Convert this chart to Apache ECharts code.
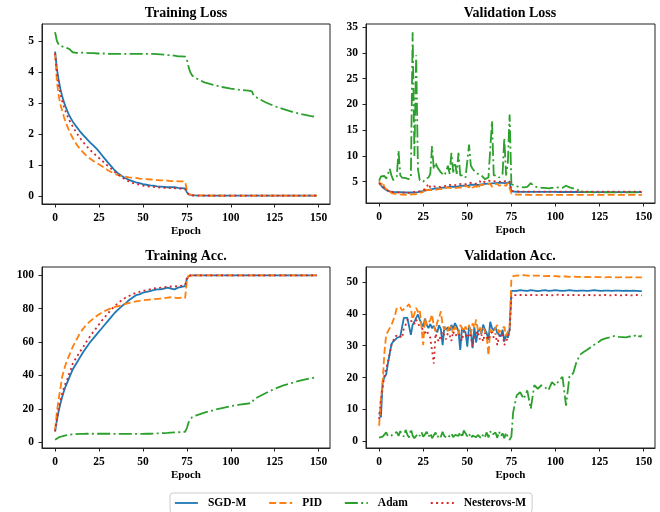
<!DOCTYPE html>
<html>
<head>
<meta charset="utf-8">
<script src="https://cdn.jsdelivr.net/npm/echarts@6/dist/echarts.min.js"></script>
<style>
html,body{margin:0;padding:0;background:#fff;}
#chart{width:660px;height:512px;}
</style>
</head>
<body>
<div id="chart"></div>
<script>
// ---------- data ----------
const seriesNames = ['SGD-M', 'PID', 'Adam', 'Nesterovs-M'];
const panelTitles = ['Training Loss', 'Validation Loss', 'Training Acc.', 'Validation Acc.'];
const xTicks = [0, 25, 50, 75, 100, 125, 150];
const yTicksTrainLoss = [0, 1, 2, 3, 4, 5];
const yTicksValLoss = [5, 10, 15, 20, 25, 30, 35];
const yTicksTrainAcc = [0, 20, 40, 60, 80, 100];
const yTicksValAcc = [0, 10, 20, 30, 40, 50];

// epochs sampled for training curves
const epochsTrain = [0,1,2,3,4,5,6,7,8,9,10,
  12,14,16,18,20,22,24,26,28,30,32,34,36,38,40,42,44,46,48,50,52,54,56,58,60,62,64,66,68,70,72,74,
  75,76,77,78,
  80,85,90,95,100,105,110,112,113,115,120,125,130,135,140,145,149];

// epochs sampled for validation curves
const epochsVal = [0,1,2,3,4,5,6,7,8,9,
  10,11,12,13,14,15,16,17,18,19,
  20,21,22,23,24,25,26,27,28,29,
  30,31,32,33,34,35,36,37,38,39,
  40,41,42,43,44,45,46,47,48,49,
  50,51,52,53,54,55,56,57,58,59,
  60,61,62,63,64,65,66,67,68,69,
  70,71,72,73,74,75,
  76,78,80,82,84,86,88,90,92,94,
  96,98,100,102,104,106,108,110,112,114,
  116,118,120,122,124,126,128,130,132,134,
  136,138,140,142,144,146,148,149];

// Training loss
const trainLossSGD = [4.65,4.1,3.75,3.45,3.22,3.03,2.87,2.73,2.6,2.5,2.4,
  2.24,2.09,1.96,1.84,1.72,1.61,1.5,1.36,1.22,1.08,0.95,0.82,0.72,0.64,0.57,0.52,0.48,0.44,0.41,0.38,0.36,0.34,0.33,0.31,0.3,0.29,0.28,0.28,0.28,0.26,0.25,0.24,
  0.12,0.05,0.03,0.02,
  0.015,0.012,0.01,0.01,0.01,0.01,0.01,0.01,0.01,0.01,0.01,0.01,0.01,0.01,0.01,0.01,0.01];
const trainLossPID = [4.6,3.7,3.25,2.95,2.75,2.55,2.38,2.23,2.1,1.98,1.87,
  1.68,1.52,1.4,1.29,1.2,1.12,1.05,0.98,0.91,0.83,0.77,0.71,0.67,0.64,0.62,0.6,0.59,0.58,0.56,0.55,0.54,0.53,0.52,0.51,0.5,0.5,0.49,0.48,0.48,0.47,0.47,0.46,
  0.2,0.06,0.04,0.03,
  0.02,0.015,0.012,0.01,0.01,0.01,0.01,0.01,0.01,0.01,0.01,0.01,0.01,0.01,0.01,0.01,0.01];
const trainLossAdam = [5.28,5.0,4.88,4.84,4.82,4.8,4.78,4.77,4.74,4.68,4.63,
  4.61,4.61,4.62,4.61,4.6,4.6,4.59,4.59,4.59,4.58,4.58,4.58,4.58,4.58,4.58,4.58,4.58,4.58,4.58,4.58,4.58,4.58,4.58,4.57,4.56,4.55,4.54,4.53,4.52,4.5,4.5,4.49,
  4.4,4.15,3.98,3.88,
  3.8,3.66,3.58,3.51,3.46,3.42,3.39,3.37,3.24,3.16,3.01,2.89,2.8,2.71,2.64,2.58,2.54];
const trainLossNes = [4.6,4.0,3.6,3.3,3.07,2.88,2.72,2.58,2.45,2.34,2.24,
  2.05,1.88,1.73,1.6,1.48,1.37,1.27,1.17,1.07,0.97,0.87,0.77,0.68,0.6,0.53,0.47,0.42,0.39,0.36,0.33,0.31,0.3,0.29,0.28,0.27,0.26,0.26,0.25,0.25,0.24,0.23,0.22,
  0.1,0.04,0.02,0.015,
  0.01,0.01,0.01,0.01,0.01,0.01,0.01,0.01,0.01,0.01,0.01,0.01,0.01,0.01,0.01,0.01,0.01];

// Training accuracy
const trainAccSGD = [6.5,13,18.5,23,27,30.5,33.5,36,38.5,41,43.5,
  47,50.5,54,57,60,62.5,65,67.5,70,72.5,75,77.5,79.5,81.5,83,85,86.5,88,88.5,89.5,90,90.5,91,91.5,91.5,92,92.5,92,91.5,92.5,93,93.5,
  97.5,99.5,99.7,99.8,
  99.9,99.9,99.9,99.9,99.9,99.9,99.9,99.9,99.9,99.9,99.9,99.9,99.9,99.9,99.9,99.9,99.9];
const trainAccPID = [7.5,18,26,32,39,43,46.5,49.5,52,54.5,57,
  61,65,68,70.5,72.5,74.2,75.8,77.2,78.4,79.4,80.2,81,81.5,82,82.8,83.3,83.8,84.3,84.6,85,85.2,85.4,85.6,85.8,86,86.2,86.5,86.8,86.5,86.3,86.6,86.2,
  97,99.6,99.8,99.9,
  99.9,99.9,99.9,99.9,99.9,99.9,99.9,99.9,99.9,99.9,99.9,99.9,99.9,99.9,99.9,99.9,99.9];
const trainAccAdam = [1.5,2.3,2.9,3.3,3.6,3.9,4.1,4.3,4.5,4.6,4.7,
  4.9,5.0,5.0,5.1,5.1,5.1,5.1,5.1,5.1,5.1,5.1,5.0,5.0,5.0,5.0,5.0,5.0,5.0,5.0,5.0,5.1,5.1,5.2,5.3,5.4,5.5,5.6,5.8,5.9,6.0,6.2,6.3,
  8.5,12,13.8,15,
  16,17.7,19.2,20.5,21.6,22.5,23.2,23.6,25.5,26.8,29.5,32,34,35.6,37,38.2,39];
const trainAccNes = [6.5,14,20,25,29,32.5,35.5,38,41,43.5,47,
  50.5,54,57,60.5,63.5,66.5,69,72,74.5,77,79.5,81.5,83.5,85,86.5,87.5,88.5,89.5,90,90.7,91,91.5,92,92.3,92.5,92.8,93,93.2,93.3,93.5,93.7,94,
  98.5,99.7,99.85,99.9,
  99.9,99.9,99.9,99.9,99.9,99.9,99.9,99.9,99.9,99.9,99.9,99.9,99.9,99.9,99.9,99.9,99.9];

// Validation loss
const valLossSGD = [4.8,4.3,3.9,3.6,3.35,3.2,3.1,3.05,3.0,2.95,
  2.95,2.9,2.95,2.9,2.9,2.95,2.9,2.85,2.9,2.95,
  2.9,3.0,2.95,3.05,3.1,3.2,3.25,3.35,3.4,3.5,
  3.55,3.6,3.7,3.75,3.7,3.8,3.85,3.9,3.85,3.95,
  4.0,3.95,4.05,4.1,4.0,4.15,4.2,4.1,4.25,4.3,
  4.2,4.35,4.4,4.3,4.4,4.45,4.35,4.5,4.45,4.5,
  4.55,4.5,4.6,4.55,4.65,4.6,4.7,4.6,4.75,4.7,
  4.75,4.8,4.7,4.85,4.9,3.1,
  3.05,3.04,3.03,3.03,3.02,3.02,3.01,3.01,3.0,3.0,
  3.0,3.0,3.0,2.99,2.99,2.99,2.99,2.99,2.99,2.98,
  2.98,2.98,2.98,2.98,2.98,2.98,2.98,2.98,2.98,2.98,
  2.98,2.98,2.98,2.98,2.98,2.98,2.98,2.98];
const valLossPID = [5.1,4.3,4.9,3.9,3.6,3.3,3.0,2.8,2.7,2.65,
  2.6,2.55,2.6,2.5,2.55,2.45,2.5,2.5,2.6,2.55,
  2.65,2.6,2.75,2.8,2.9,3.0,3.9,3.3,3.2,3.4,
  3.5,3.3,3.6,3.5,3.7,3.6,3.8,3.5,3.9,3.7,
  3.8,3.9,3.7,4.0,3.8,4.1,3.9,4.0,3.8,4.2,
  4.0,3.9,4.3,3.8,4.1,4.2,3.6,4.3,4.0,4.4,
  4.1,4.5,4.2,4.6,4.0,4.4,4.3,4.6,4.2,4.5,
  4.4,4.7,4.2,4.8,4.5,2.7,
  2.5,2.48,2.47,2.46,2.46,2.45,2.45,2.45,2.45,2.45,
  2.45,2.45,2.44,2.44,2.44,2.44,2.44,2.44,2.44,2.44,
  2.44,2.44,2.44,2.44,2.44,2.44,2.44,2.44,2.44,2.44,
  2.44,2.44,2.44,2.44,2.44,2.44,2.44,2.44];
const valLossAdam = [5.2,6.0,6.3,6.1,5.6,6.5,7.5,6.2,5.3,5.2,
  6.0,11.0,6.2,5.8,5.9,5.7,5.6,5.5,6.0,34.0,
  10.0,29.5,7.5,5.3,5.2,5.0,5.5,5.3,5.8,6.5,
  11.9,7.4,8.7,7.8,8.1,6.8,6.5,6.2,7.0,8.1,
  6.5,10.6,6.8,8.7,6.5,10.6,6.2,6.0,6.2,5.8,
  5.9,12.2,8.1,7.5,7.1,6.8,6.5,6.3,6.2,5.9,
  5.5,5.7,5.8,6.0,16.7,6.2,6.0,6.2,5.8,5.5,
  6.5,13.5,6.2,8.7,18.0,4.5,
  4.3,4.1,4.0,3.9,4.0,4.7,4.1,3.9,3.8,3.8,
  3.7,3.8,3.8,3.9,3.8,4.2,3.9,3.7,3.5,3.2,
  3.0,2.95,2.95,2.94,2.94,2.94,2.93,2.93,2.93,2.93,
  2.93,2.93,2.92,2.92,2.92,2.92,2.92,2.92];
const valLossNes = [4.7,4.4,4.0,3.7,3.45,3.25,3.1,3.0,2.95,2.9,
  2.9,2.85,2.9,2.85,2.9,2.95,2.8,2.9,2.85,2.95,
  3.0,2.9,3.05,3.1,3.2,3.3,3.5,3.6,4.6,3.9,
  3.8,4.1,3.9,4.0,4.2,4.0,4.3,4.1,4.2,4.4,
  4.2,4.3,4.5,4.3,4.4,4.6,4.4,4.5,4.7,4.5,
  4.6,4.8,4.5,4.7,4.9,4.6,4.7,5.1,4.7,4.8,
  5.0,4.8,5.2,4.9,5.0,4.8,5.1,4.9,5.0,5.2,
  4.9,5.1,5.2,4.9,5.0,3.2,
  3.12,3.1,3.09,3.08,3.08,3.07,3.07,3.07,3.06,3.06,
  3.06,3.06,3.06,3.06,3.05,3.05,3.05,3.05,3.05,3.05,
  3.05,3.05,3.05,3.05,3.05,3.05,3.05,3.05,3.05,3.05,
  3.05,3.05,3.05,3.05,3.05,3.05,3.05,3.05];

// Validation accuracy
const valAccSGD = [9.0,7.5,18.6,20.2,21.0,24.5,25.0,30.5,31.3,31.8,
  32.4,31.8,32.9,32.5,38.7,38.5,38.7,39.2,33.4,36.6,
  37.5,38.7,39.8,38.2,37.0,36.0,38.5,36.5,35.5,36.8,
  35.5,36.2,35.0,34.2,36.4,35.2,30.2,36.0,35.0,35.8,
  34.8,36.5,35.2,37.1,36.0,34.5,28.7,35.5,35.8,34.2,
  29.7,36.0,34.8,29.2,35.8,31.0,34.5,35.2,33.8,36.6,
  35.0,34.0,31.8,37.5,35.5,34.8,35.8,34.0,33.5,32.9,
  35.0,31.3,33.5,32.5,35.0,47.2,
  47.3,47.2,47.4,47.3,47.2,47.4,47.3,47.1,47.3,47.4,
  47.2,47.3,47.4,47.3,47.2,47.3,47.4,47.3,47.2,47.3,
  47.3,47.2,47.3,47.4,47.3,47.2,47.3,47.3,47.2,47.3,
  47.3,47.2,47.3,47.2,47.3,47.2,47.1,47.1];
const valAccPID = [4.9,13.3,18.6,28.0,33.4,34.5,35.5,36.5,37.0,39.5,
  41.9,42.4,42.0,41.0,40.8,41.9,42.5,43.0,41.5,38.2,
  40.0,41.9,40.5,41.4,42.0,30.2,38.7,36.5,37.0,38.0,
  39.8,36.0,34.5,37.5,38.7,40.8,36.5,35.0,36.0,34.5,
  36.5,35.5,34.0,36.0,35.0,33.5,36.5,35.5,34.5,36.0,
  35.0,36.5,33.5,37.0,35.5,38.2,35.0,36.0,34.0,35.5,
  34.5,33.0,27.0,35.0,35.5,34.0,35.5,36.5,34.0,35.0,
  34.5,36.0,33.0,34.5,36.0,51.0,
  51.8,52.0,52.1,52.1,52.0,51.9,52.0,52.0,51.9,51.8,
  51.9,51.8,51.8,51.7,51.8,51.7,51.6,51.7,51.6,51.6,
  51.5,51.6,51.5,51.6,51.5,51.5,51.4,51.5,51.5,51.4,
  51.4,51.5,51.4,51.4,51.5,51.4,51.4,51.4];
const valAccAdam = [1.2,1.1,1.5,1.9,2.8,1.6,2.2,1.8,2.5,2.0,
  2.9,1.7,3.2,2.4,1.5,3.6,2.1,1.2,3.9,1.8,
  1.0,1.6,2.4,1.7,2.9,1.5,2.2,3.0,1.4,2.6,
  1.0,1.9,2.8,1.2,2.1,1.4,3.0,1.6,2.2,1.0,
  1.8,2.5,1.3,2.0,1.5,1.7,2.9,1.2,3.4,3.8,
  1.6,2.5,1.0,1.8,2.4,1.3,2.0,1.6,0.9,2.2,
  1.4,2.8,1.2,3.2,2.0,1.5,2.8,1.1,3.1,1.6,
  2.5,1.0,2.8,1.3,0.5,1.5,
  9.1,14.4,15.4,13.3,16.0,10.2,17.6,16.5,17.6,17.0,
  16.0,18.6,17.5,19.1,20.2,11.2,20.7,21.3,25.0,27.2,
  28.0,28.7,29.5,30.3,31.0,31.8,32.2,32.5,32.9,33.1,
  32.8,32.7,32.6,32.9,32.8,33.5,32.8,33.2];
const valAccNes = [7.0,13.3,17.0,20.7,23.0,25.0,27.5,30.2,31.5,32.9,
  33.2,33.4,33.0,32.4,35.5,36.5,38.2,37.5,37.6,37.8,
  36.8,38.2,37.0,36.0,35.5,35.0,34.0,34.8,33.4,32.5,
  33.0,24.4,33.8,32.0,31.3,33.5,34.5,33.0,32.0,34.0,
  33.2,31.5,34.5,33.0,32.5,34.0,33.0,31.5,34.5,33.5,
  32.4,34.0,32.8,29.7,33.5,33.0,34.5,32.0,33.5,31.3,
  34.0,33.0,31.8,33.5,34.2,32.5,33.8,30.2,33.0,32.5,
  33.8,30.2,29.7,32.5,35.0,45.0,
  45.8,45.9,45.9,45.8,45.9,45.9,45.8,45.9,45.9,45.8,
  45.9,45.8,45.9,46.0,45.9,45.8,45.9,45.9,45.8,45.9,
  45.8,45.9,45.9,45.8,45.9,45.8,45.9,45.8,45.8,45.9,
  45.8,45.8,45.9,45.8,45.8,45.9,45.8,45.8];

// ---------- styling ----------
const FONT = 'Liberation Serif, Times New Roman, serif';
const colors = ['#1f77b4', '#ff7f0e', '#2ca02c', '#d62728'];
const dashes = ['solid', [7, 3.3], [13, 3.3, 2, 3.3], [2, 3.3]];
const LW = 1.8;

const grids = [
  {left: 42, top: 24, width: 288, height: 180},
  {left: 366, top: 24, width: 289, height: 179},
  {left: 42, top: 267, width: 288, height: 181},
  {left: 366, top: 267, width: 289, height: 181}
];
const yRanges = [[-0.26, 5.54], [0.86, 35.58], [-3.42, 104.87], [-2.08, 54.68]];
const yTicks = [yTicksTrainLoss, yTicksValLoss, yTicksTrainAcc, yTicksValAcc];

const panels = [
  {ep: epochsTrain, vals: [trainLossSGD, trainLossPID, trainLossAdam, trainLossNes]},
  {ep: epochsVal, vals: [valLossSGD, valLossPID, valLossAdam, valLossNes]},
  {ep: epochsTrain, vals: [trainAccSGD, trainAccPID, trainAccAdam, trainAccNes]},
  {ep: epochsVal, vals: [valAccSGD, valAccPID, valAccAdam, valAccNes]}
];

const axisColor = '#222';
const labelStyle = {color: '#000', fontFamily: FONT, fontWeight: 'bold', fontSize: 11.5};

const xAxes = grids.map((g, i) => ({
  type: 'value', gridIndex: i, min: -7.45, max: 156.45,
  name: 'Epoch', nameLocation: 'middle', nameGap: 22,
  nameTextStyle: {color: '#000', fontFamily: FONT, fontWeight: 'bold', fontSize: 11},
  splitLine: {show: false},
  axisLine: {show: true, onZero: false, lineStyle: {color: axisColor, width: 1}},
  axisTick: {show: true, inside: false, length: 3.5, customValues: xTicks, lineStyle: {color: axisColor, width: 1}},
  axisLabel: Object.assign({margin: 8, customValues: xTicks}, labelStyle)
}));
const yAxes = grids.map((g, i) => ({
  type: 'value', gridIndex: i, min: yRanges[i][0], max: yRanges[i][1],
  splitLine: {show: false},
  axisLine: {show: true, onZero: false, lineStyle: {color: axisColor, width: 1}},
  axisTick: {show: true, inside: false, length: 3.5, customValues: yTicks[i], lineStyle: {color: axisColor, width: 1}},
  axisLabel: Object.assign({margin: 8, customValues: yTicks[i]}, labelStyle)
}));

const series = [];
panels.forEach((p, pi) => {
  p.vals.forEach((v, si) => {
    series.push({
      name: seriesNames[si], type: 'line', xAxisIndex: pi, yAxisIndex: pi,
      data: p.ep.map((e, k) => [e, v[k]]),
      symbol: 'none', showSymbol: false, animation: false,
      lineStyle: {color: colors[si], width: LW, type: dashes[si], cap: 'butt'},
      itemStyle: {color: colors[si]},
      z: 2 + si
    });
  });
});

const titleCenters = [[186, 13], [510, 13], [186, 256], [510, 256]];
const graphics = panelTitles.map((t, i) => ({
  type: 'text', x: titleCenters[i][0], y: titleCenters[i][1],
  style: {text: t, fill: '#000', font: 'bold 14px ' + FONT, align: 'center', verticalAlign: 'middle',
          textAlign: 'center', textVerticalAlign: 'middle'}
}));

const chart = echarts.init(document.getElementById('chart'), null, {renderer: 'canvas'});
chart.setOption({
  backgroundColor: '#fff',
  animation: false,
  grid: grids.map(g => Object.assign({show: true, borderColor: axisColor, borderWidth: 1, backgroundColor: 'transparent', containLabel: false}, g)),
  xAxis: xAxes,
  yAxis: yAxes,
  series: series,
  graphic: graphics,
  legend: {
    data: seriesNames, left: 170, top: 493, orient: 'horizontal',
    itemWidth: 23, itemHeight: 10, itemGap: 22,
    itemStyle: {opacity: 0, borderWidth: 0},
    lineStyle: {width: LW},
    borderColor: '#ccc', borderWidth: 1, borderRadius: 3, padding: [4, 6, 4, 4],
    backgroundColor: '#fff',
    textStyle: {color: '#000', fontFamily: FONT, fontWeight: 'bold', fontSize: 11.5, padding: [0, 0, 0, 5]}
  }
});
</script>
</body>
</html>
